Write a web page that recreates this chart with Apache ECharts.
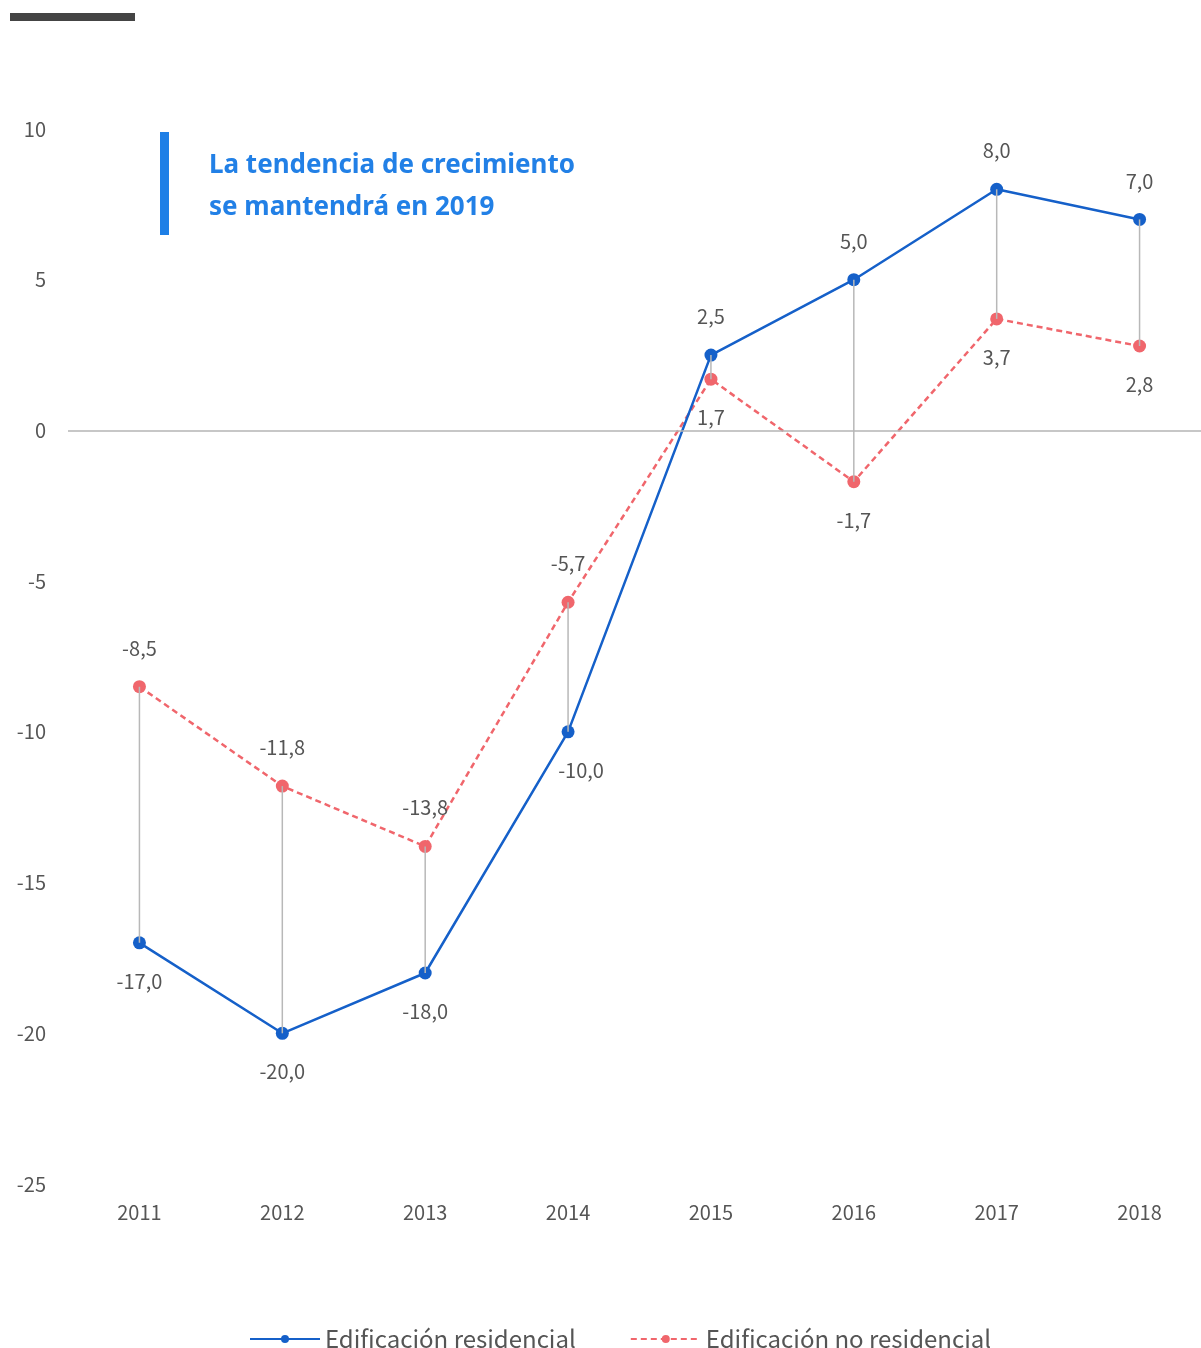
<!DOCTYPE html>
<html>
<head>
<meta charset="utf-8">
<script src="https://cdn.jsdelivr.net/npm/echarts@6/dist/echarts.min.js"></script>
<style>
  html, body { margin: 0; padding: 0; background: #fff; }
  #chart { width: 1201px; height: 1348px; }
</style>
</head>
<body>
<div id="chart"></div>
<script>
// datos
const years = ['2011', '2012', '2013', '2014', '2015', '2016', '2017', '2018']
const residencial = [-17.0, -20.0, -18.0, -10.0, 2.5, 5.0, 8.0, 7.0]
const noResidencial = [-8.5, -11.8, -13.8, -5.7, 1.7, -1.7, 3.7, 2.8]
const yMin = -25
const yMax = 10
const yStep = 5

const FONT = '"Noto Sans CJK JP", "Noto Sans", sans-serif'
const BLUE = '#1560c9'
const RED = '#f0666c'
const TEXT = '#555'

const fmt = v => v.toFixed(1).replace('.', ',')

// etiquetas: arriba la serie que queda por encima
const resData = residencial.map((v, i) => ({
  value: v,
  label: {
    position: v > noResidencial[i] ? 'top' : 'bottom',
    offset: i === 3 ? [13, 0] : [0, 0]
  }
}))
const noResData = noResidencial.map((v, i) => ({
  value: v,
  label: { position: v > residencial[i] ? 'top' : 'bottom' }
}))

const chart = echarts.init(document.getElementById('chart'))

chart.setOption({
  backgroundColor: '#fff',
  animation: false,
  textStyle: { fontFamily: FONT },
  graphic: [
    { type: 'rect', left: 10, top: 13, shape: { width: 125, height: 8 }, style: { fill: '#444' } },
    { type: 'rect', left: 160, top: 132, shape: { width: 9, height: 103 }, style: { fill: '#1e7fe6' } },
    {
      type: 'text', left: 209, top: 145,
      style: {
        text: 'La tendencia de crecimiento\nse mantendrá en 2019',
        fill: '#2280e6',
        font: 'bold 26px "Noto Sans", sans-serif',
        lineHeight: 42
      }
    }
  ],
  grid: { left: 68, width: 1143, top: 129, bottom: 164, outerBoundsMode: 'none', containLabel: false },
  legend: {
    top: 1322,
    left: 244,
    itemWidth: 70,
    itemHeight: 10,
    itemGap: 54,
    textStyle: { color: TEXT, fontSize: 24, fontFamily: FONT },
    data: ['Edificación residencial', 'Edificación no residencial']
  },
  xAxis: {
    type: 'category',
    data: years,
    boundaryGap: true,
    axisLine: { show: false },
    axisTick: { show: false },
    axisLabel: { color: TEXT, fontSize: 20, margin: 18 },
    splitLine: { show: false }
  },
  yAxis: {
    type: 'value',
    min: yMin,
    max: yMax,
    interval: yStep,
    axisLine: { show: false },
    axisTick: { show: false },
    splitLine: { show: false },
    axisLabel: { color: TEXT, fontSize: 20, margin: 22 }
  },
  series: [
    {
      name: 'Edificación residencial',
      type: 'line',
      data: resData,
      symbol: 'circle',
      symbolSize: 13,
      itemStyle: { color: BLUE },
      lineStyle: { color: BLUE, width: 2.5 },
      label: {
        show: true,
        color: TEXT,
        fontSize: 20,
        distance: 22,
        formatter: p => fmt(p.value)
      },
      z: 3,
      markLine: {
        silent: true,
        symbol: 'none',
        label: { show: false },
        lineStyle: { color: '#b5b5b5', width: 1.5, type: 'solid' },
        data: [{ yAxis: 0 }]
      }
    },
    {
      name: 'Edificación no residencial',
      type: 'line',
      data: noResData,
      symbol: 'circle',
      symbolSize: 13,
      itemStyle: { color: RED },
      lineStyle: { color: RED, width: 2.5, type: [6, 4] },
      label: {
        show: true,
        color: TEXT,
        fontSize: 20,
        distance: 22,
        formatter: p => fmt(p.value)
      },
      z: 2
    },
    {
      // líneas verticales entre ambas series
      type: 'custom',
      silent: true,
      z: 4,
      data: years.map((y, i) => [i, residencial[i], noResidencial[i]]),
      encode: { x: 0, y: [1, 2] },
      renderItem: (params, api) => {
        const a = api.coord([api.value(0), api.value(1)])
        const b = api.coord([api.value(0), api.value(2)])
        return {
          type: 'line',
          shape: { x1: a[0], y1: a[1], x2: b[0], y2: b[1] },
          style: { stroke: '#b8b8b8', lineWidth: 1.5 }
        }
      }
    }
  ]
})
</script>
</body>
</html>
